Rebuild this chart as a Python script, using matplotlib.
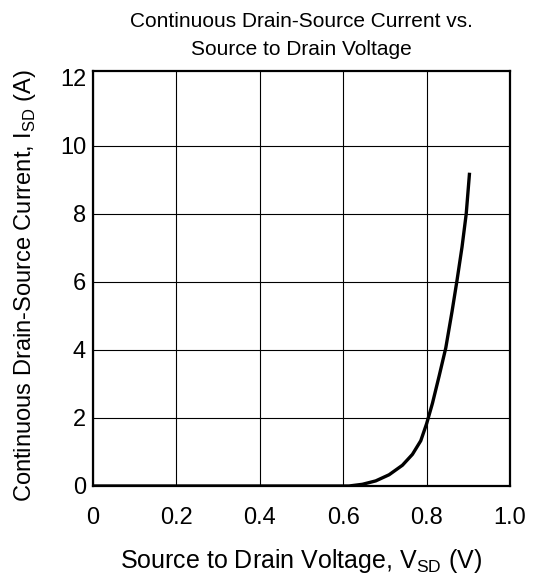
import matplotlib
matplotlib.use('Agg')
import matplotlib.pyplot as plt
import numpy as np

plt.rcParams['font.family'] = ['Liberation Sans', 'DejaVu Sans']
plt.rcParams['mathtext.fontset'] = 'custom'
plt.rcParams['mathtext.rm'] = 'Liberation Sans'

# curve
vsd = [0.0, 0.30, 0.60, 0.614, 0.646, 0.678, 0.710, 0.742, 0.766, 0.786, 0.800, 0.814,
       0.830, 0.846, 0.861, 0.873, 0.885, 0.895, 0.903]
isd = [0.0, 0.0, 0.0, 0.0, 0.05, 0.15, 0.33, 0.61, 0.93, 1.33, 1.83, 2.43,
       3.23, 4.06, 5.13, 6.05, 7.03, 8.0, 9.21]

xticks = [0, 0.2, 0.4, 0.6, 0.8, 1.0]
xticklabels = ['0', '0.2', '0.4', '0.6', '0.8', '1.0']
yticks = [0, 2, 4, 6, 8, 10, 12]

W, H = 535, 575
fig = plt.figure(figsize=(W / 100, H / 100), dpi=100)
ax = fig.add_axes([93 / W, 1 - 486 / H, 417 / W, 415 / H])

ax.plot(vsd, isd, color='black', lw=2.4, solid_capstyle='butt', solid_joinstyle='round')

ax.set_xlim(0, 1.0)
ax.set_ylim(0, 12.2)
ax.set_xticks(xticks)
ax.set_xticklabels(xticklabels)
ax.set_yticks(yticks)
ax.tick_params(length=0, labelsize=17)
ax.tick_params(axis='x', pad=15)
ax.tick_params(axis='y', pad=5)
ax.grid(True, color='black', lw=0.8)
ax.yaxis.get_gridlines()[-1].set_visible(False)
for s in ax.spines.values():
    s.set_linewidth(1.6)

fig.text(301 / W, 1 - 35.5 / H, 'Continuous Drain-Source Current vs.\nSource to Drain Voltage',
         fontsize=15, ha='center', va='center', linespacing=1.65)
fig.text(301 / W, 1 - 561 / H, r'Source to Drain Voltage, V$_{\rm SD}$ (V)',
         fontsize=18, ha='center', va='center')
fig.text(25 / W, 1 - 285.5 / H, r'Continuous Drain-Source Current, I$_{\rm SD}$ (A)',
         fontsize=17, ha='center', va='center', rotation=90)

fig.savefig('out.png', dpi=100)
